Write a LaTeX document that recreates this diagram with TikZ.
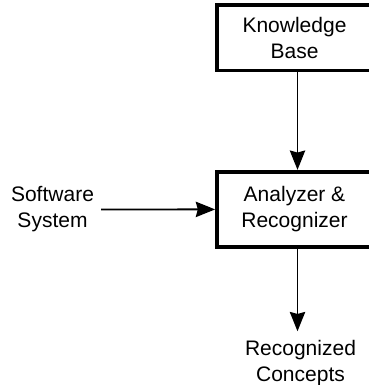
\documentclass[tikz,border=0pt]{standalone}
\usepackage{fontspec}
\setmainfont{Liberation Sans}
\usetikzlibrary{positioning,arrows.meta}

\begin{document}
\begin{tikzpicture}
[x=0.75pt, y=-0.75pt,
    font=\fontsize{15.75pt}{19.5pt}\selectfont,
    ->, >={Stealth[length=14.5pt,width=11.5pt,inset=1.5pt]},
    block/.style={rectangle, draw=black, line width=2.8pt,
    minimum width=116.25pt, align=center, inner sep=0pt},
    plain/.style={align=center, inner sep=0pt},
    flow/.style={draw=black, line width=1.4pt},
    ]
    \useasboundingbox (0,0) rectangle (368,385);

    % boxes
    \node[block, minimum height=48.9pt] (kb) at (294.5,37.9) {Knowledge \\ Base};
    \node[block, minimum height=56.5pt] (ar) at (294.5,209.4) {Analyzer \& \\ Recognizer};

    % input and output
    \node[plain] (ss) at (52.5,209.5) {Software \\ System};
    \node[plain] (rc) at (300.5,363) {Recognized \\ Concepts};

    \draw[flow] ([xshift=2.25pt]kb.south) -- ([xshift=2.25pt]kb.south |- ar.north);
    \draw[flow, shorten <=5.25pt] (ss.east) -- (ar.west);
    \draw[flow, shorten >=6.5pt] ([xshift=2.25pt]ar.south) -- ([xshift=2.25pt]ar.south |- rc.north);

\end{tikzpicture}
\end{document}
